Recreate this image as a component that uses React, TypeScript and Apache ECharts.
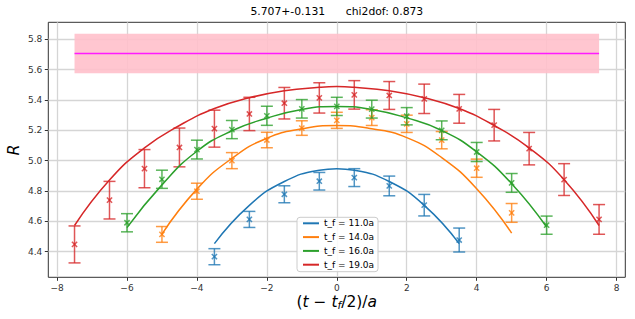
import React, { useEffect, useRef } from 'react';
import * as echarts from 'echarts';

const FONT = 'DejaVu Sans';
const titleText = '5.707+-0.131      chi2dof: 0.873';
const bandMean = 5.707;
const bandErr = 0.131;
const bandXRange = [-7.5, 7.5];

const seriesNames = ['t_f = 11.0a', 't_f = 14.0a', 't_f = 16.0a', 't_f = 19.0a'];
const seriesColors = ['#1f77b4', '#ff7f0e', '#2ca02c', '#d62728'];

const xTicks = [-8, -6, -4, -2, 0, 2, 4, 6, 8];
const yTicks = [4.4, 4.6, 4.8, 5.0, 5.2, 5.4, 5.6, 5.8];

// t_f = 11
const x11 = [-3.5, -2.5, -1.5, -0.5, 0.5, 1.5, 2.5, 3.5];
const y11 = [4.366, 4.612, 4.778, 4.864, 4.888, 4.833, 4.706, 4.476];
const e11 = [0.053, 0.053, 0.056, 0.058, 0.059, 0.065, 0.071, 0.079];
const fx11 = [-3.5, -2.5, -1.5, -0.5, 0, 0.5, 1.5, 2.5, 3.5];
const fy11 = [4.452, 4.705, 4.862, 4.937, 4.947, 4.937, 4.862, 4.705, 4.452];

// t_f = 14
const x14 = [-5, -4, -3, -2, -1, 0, 1, 2, 3, 4, 5];
const y14 = [4.513, 4.798, 5.0, 5.136, 5.215, 5.266, 5.284, 5.243, 5.135, 4.95, 4.655];
const e14 = [0.052, 0.053, 0.053, 0.051, 0.048, 0.053, 0.052, 0.057, 0.057, 0.06, 0.062];
const fx14 = [-5, -4, -3, -2, -1, 0, 1, 2, 3, 4, 5];
const fy14 = [4.515, 4.812, 5.015, 5.148, 5.21, 5.232, 5.21, 5.152, 5.02, 4.815, 4.522];

// t_f = 16
const x16 = [-6, -5, -4, -3, -2, -1, 0, 1, 2, 3, 4, 5, 6];
const y16 = [4.59, 4.877, 5.073, 5.205, 5.296, 5.342, 5.358, 5.34, 5.293, 5.2, 5.057, 4.853, 4.574];
const e16 = [0.06, 0.06, 0.062, 0.06, 0.063, 0.061, 0.06, 0.059, 0.057, 0.062, 0.063, 0.062, 0.06];
const fx16 = [-6, -5, -4, -3, -2, -1, 0, 1, 2, 3, 4, 5, 6];
const fy16 = [4.558, 4.84, 5.062, 5.197, 5.28, 5.338, 5.358, 5.338, 5.282, 5.199, 5.058, 4.848, 4.562];

// t_f = 19
const x19 = [-7.5, -6.5, -5.5, -4.5, -3.5, -2.5, -1.5, -0.5, 0.5, 1.5, 2.5, 3.5, 4.5, 5.5, 6.5, 7.5];
const y19 = [4.447, 4.739, 4.947, 5.087, 5.211, 5.308, 5.379, 5.414, 5.434, 5.43, 5.408, 5.342, 5.234, 5.079, 4.875, 4.612];
const e19 = [0.122, 0.124, 0.126, 0.128, 0.122, 0.11, 0.104, 0.1, 0.094, 0.092, 0.097, 0.095, 0.104, 0.107, 0.105, 0.098];
const fx19 = [-7.5, -6.5, -5.5, -4.5, -3.5, -2.5, -1.5, -0.5, 0, 0.5, 1.5, 2.5, 3.5, 4.5, 5.5, 6.5, 7.5];
const fy19 = [4.572, 4.872, 5.084, 5.232, 5.344, 5.415, 5.461, 5.484, 5.489, 5.484, 5.461, 5.415, 5.344, 5.232, 5.084, 4.874, 4.572];

const points = [
  { x: x11, y: y11, e: e11, fx: fx11, fy: fy11 },
  { x: x14, y: y14, e: e14, fx: fx14, fy: fy14 },
  { x: x16, y: y16, e: e16, fx: fx16, fy: fy16 },
  { x: x19, y: y19, e: e19, fx: fx19, fy: fy19 },
];

const fmtMinus = (v: number, d: number) => {
  const s = v.toFixed(d);
  return s.replace('-', '\u2212');
};

function buildOption() {
  const series: any[] = [];
  series.push({
    type: 'line',
    name: 'mean',
    data: bandXRange.map((x) => [x, bandMean]),
    showSymbol: false,
    symbol: 'none',
    lineStyle: { color: '#ff1aff', width: 1.6 },
    z: 3,
    silent: true,
    markArea: {
      silent: true,
      itemStyle: { color: '#ffc0cb', opacity: 0.9 },
      data: [[{ coord: [bandXRange[0], bandMean + bandErr] }, { coord: [bandXRange[1], bandMean - bandErr] }]],
    },
  });
  points.forEach((p, i) => {
    const color = seriesColors[i];
    series.push({
      type: 'custom',
      name: seriesNames[i] + ' data',
      data: p.x.map((x, k) => [x, p.y[k], p.e[k]]),
      encode: { x: 0, y: 1 },
      z: 4,
      silent: true,
      renderItem: (params: any, api: any) => {
        const x = api.value(0);
        const y = api.value(1);
        const e = api.value(2);
        const top = api.coord([x, y + e]);
        const bot = api.coord([x, y - e]);
        const c = api.coord([x, y]);
        const cap = 6;
        const m = 2.6;
        const style = { stroke: color, lineWidth: 1.5, opacity: 0.78 };
        return {
          type: 'group',
          children: [
            { type: 'line', shape: { x1: top[0], y1: top[1], x2: bot[0], y2: bot[1] }, style },
            { type: 'line', shape: { x1: top[0] - cap, y1: top[1], x2: top[0] + cap, y2: top[1] }, style },
            { type: 'line', shape: { x1: bot[0] - cap, y1: bot[1], x2: bot[0] + cap, y2: bot[1] }, style },
            { type: 'line', shape: { x1: c[0] - m, y1: c[1] - m, x2: c[0] + m, y2: c[1] + m }, style },
            { type: 'line', shape: { x1: c[0] - m, y1: c[1] + m, x2: c[0] + m, y2: c[1] - m }, style },
          ],
        };
      },
    });
    series.push({
      type: 'line',
      name: seriesNames[i],
      data: p.fx.map((x, k) => [x, p.fy[k]]),
      showSymbol: false,
      symbol: 'none',
      smooth: 0.5,
      lineStyle: { color, width: 1.5 },
      itemStyle: { color },
      z: 5,
    });
  });

  return {
    animation: false,
    backgroundColor: '#ffffff',
    title: {
      text: titleText,
      left: 336.8,
      top: 6,
      textAlign: 'center',
      padding: 0,
      textStyle: { fontFamily: FONT, fontSize: 10.8, fontWeight: 'normal', color: '#000' },
    },
    grid: {
      left: 48.3,
      right: 9.7,
      top: 22.3,
      bottom: 41.7,
      show: true,
      borderColor: '#333333',
      borderWidth: 1,
      backgroundColor: 'transparent',
    },
    legend: {
      data: seriesNames,
      orient: 'vertical',
      left: 297,
      top: 217.3,
      icon: 'rect',
      itemWidth: 16,
      itemHeight: 2,
      itemGap: 3.8,
      padding: [1, 4, 2, 6],
      backgroundColor: 'rgba(255,255,255,0.85)',
      borderColor: '#cccccc',
      borderWidth: 1,
      borderRadius: 3,
      textStyle: { fontFamily: FONT, fontSize: 9, color: '#000', lineHeight: 10 },
      selectedMode: false,
    },
    xAxis: {
      type: 'value',
      min: -8.25,
      max: 8.25,
      axisLine: { show: false, onZero: false },
      axisTick: { show: true, length: 3.5, lineStyle: { color: '#333' }, customValues: xTicks },
      axisLabel: {
        customValues: xTicks,
        formatter: (v: number) => fmtMinus(v, 0),
        margin: 6,
        fontFamily: FONT,
        fontSize: 9,
        color: '#333',
      },
      splitLine: { show: true, lineStyle: { color: '#d5d5d5', width: 1.3 } },
    },
    yAxis: {
      type: 'value',
      min: 4.23,
      max: 5.913,
      axisLine: { show: false, onZero: false },
      axisTick: { show: true, length: 3.5, lineStyle: { color: '#333' }, customValues: yTicks },
      axisLabel: {
        customValues: yTicks,
        formatter: (v: number) => v.toFixed(1),
        margin: 6,
        fontFamily: FONT,
        fontSize: 9,
        color: '#333',
      },
      splitLine: { show: true, lineStyle: { color: '#d5d5d5', width: 1.3 } },
    },
    graphic: [
      {
        type: 'text',
        x: 336.8,
        y: 301.7,
        silent: true,
        style: {
          text: '{n|(}{i|t}{n| \u2212 }{i|t}{s|f}{n|/2)/}{i|a}',
          align: 'center',
          verticalAlign: 'middle',
          fill: '#000',
          rich: {
            n: { fontFamily: FONT, fontSize: 15.5, lineHeight: 18, verticalAlign: 'middle', fill: '#000' },
            i: { fontFamily: FONT, fontSize: 15.5, fontStyle: 'italic', lineHeight: 18, verticalAlign: 'middle', fill: '#000' },
            s: { fontFamily: FONT, fontSize: 10.5, fontStyle: 'italic', lineHeight: 8, verticalAlign: 'bottom', fill: '#000' },
          },
        },
      },
      {
        type: 'text',
        x: 13,
        y: 150,
        rotation: Math.PI / 2,
        silent: true,
        style: {
          text: 'R',
          align: 'center',
          verticalAlign: 'middle',
          fill: '#000',
          font: `italic 16px "${FONT}"`,
        },
      },
    ],
    series,
  };
}

export default function App() {
  const ref = useRef<HTMLDivElement>(null);
  useEffect(() => {
    document.body.style.margin = '0';
    const chart = echarts.init(ref.current!, undefined, { renderer: 'svg' });
    chart.setOption(buildOption() as any);
    return () => chart.dispose();
  }, []);
  return <div ref={ref} style={{ width: 635, height: 319 }} />;
}
